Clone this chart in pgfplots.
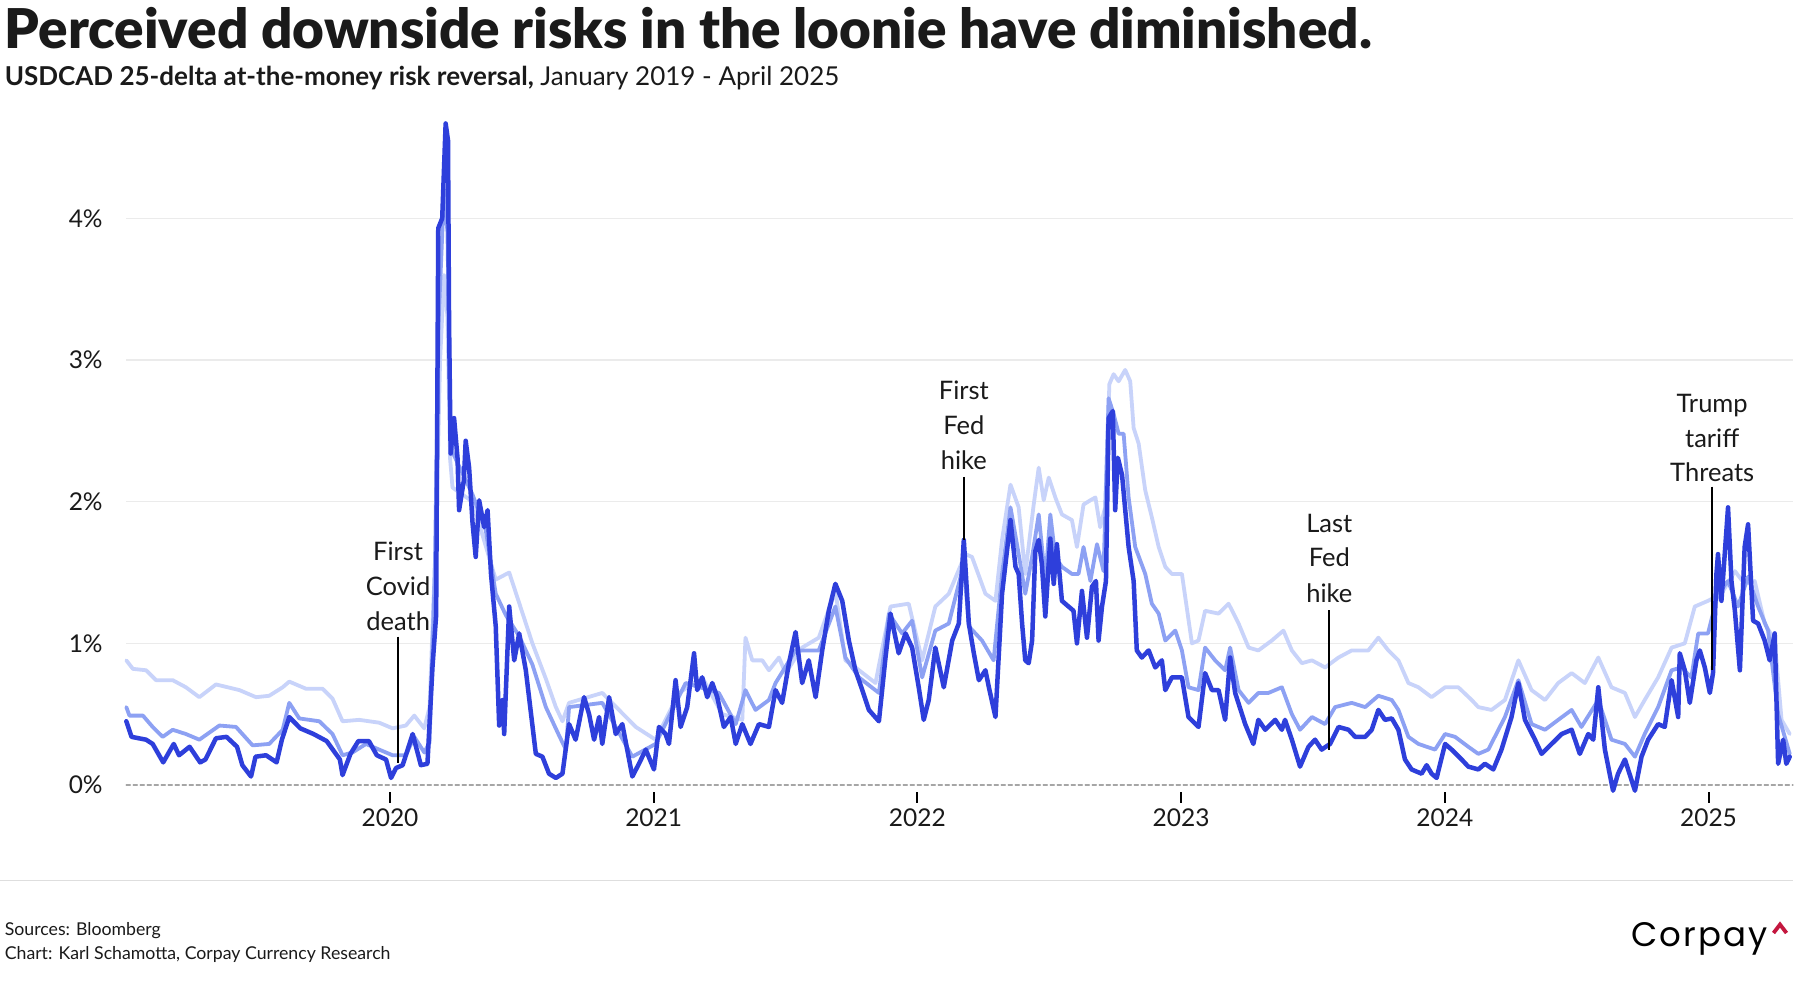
\documentclass[border=0pt]{standalone}
\usepackage{fontspec}
\setmainfont{Lato}
\newfontfamily\titlefont{Lato Black}
\newfontfamily\logofont{Poppins}[LetterSpace=6]
\usepackage{pgfplots}
\usepackage{pgfplotstable}
\pgfplotsset{compat=1.18}
\definecolor{cdark}{HTML}{2E3FDB}
\definecolor{cmed}{HTML}{8DA1F3}
\definecolor{clight}{HTML}{C8D3FA}
\definecolor{ctext}{HTML}{1A1A1A}
\definecolor{cred}{HTML}{C4173F}

\pgfplotstableread{
t v
2019.000 0.45
2019.020 0.34
2019.075 0.32
2019.100 0.29
2019.140 0.16
2019.180 0.29
2019.200 0.21
2019.240 0.27
2019.280 0.16
2019.300 0.18
2019.340 0.33
2019.380 0.34
2019.420 0.27
2019.440 0.14
2019.473 0.06
2019.490 0.20
2019.530 0.21
2019.570 0.16
2019.590 0.32
2019.618 0.48
2019.660 0.40
2019.710 0.36
2019.760 0.31
2019.810 0.18
2019.820 0.07
2019.850 0.22
2019.880 0.31
2019.920 0.31
2019.950 0.21
2019.985 0.18
2020.004 0.05
2020.023 0.12
2020.048 0.14
2020.086 0.36
2020.117 0.14
2020.142 0.15
2020.161 0.83
2020.175 1.20
2020.183 3.93
2020.198 4.00
2020.211 4.67
2020.220 4.55
2020.224 3.26
2020.230 2.34
2020.243 2.59
2020.256 2.31
2020.262 1.94
2020.280 2.15
2020.287 2.43
2020.300 2.24
2020.313 1.85
2020.325 1.61
2020.338 2.01
2020.357 1.82
2020.370 1.94
2020.383 1.49
2020.401 1.12
2020.414 0.42
2020.427 0.60
2020.433 0.36
2020.452 1.26
2020.471 0.88
2020.490 1.07
2020.515 0.81
2020.553 0.22
2020.578 0.20
2020.603 0.08
2020.629 0.05
2020.654 0.08
2020.679 0.43
2020.704 0.32
2020.736 0.62
2020.755 0.50
2020.774 0.32
2020.793 0.48
2020.805 0.29
2020.831 0.62
2020.856 0.36
2020.881 0.43
2020.919 0.06
2020.944 0.15
2020.970 0.25
2021.001 0.11
2021.020 0.41
2021.045 0.36
2021.058 0.29
2021.083 0.74
2021.102 0.41
2021.127 0.55
2021.153 0.93
2021.165 0.67
2021.184 0.76
2021.203 0.62
2021.222 0.72
2021.241 0.62
2021.266 0.41
2021.292 0.48
2021.311 0.29
2021.336 0.43
2021.367 0.29
2021.399 0.43
2021.437 0.41
2021.462 0.67
2021.487 0.58
2021.513 0.86
2021.538 1.08
2021.563 0.72
2021.588 0.88
2021.614 0.62
2021.639 0.95
2021.664 1.23
2021.689 1.42
2021.715 1.30
2021.740 1.02
2021.765 0.81
2021.791 0.67
2021.816 0.53
2021.854 0.45
2021.879 0.90
2021.898 1.21
2021.929 0.93
2021.955 1.07
2021.980 0.97
2022.005 0.69
2022.024 0.46
2022.043 0.60
2022.068 0.97
2022.100 0.69
2022.132 1.02
2022.157 1.14
2022.176 1.73
2022.195 1.14
2022.214 0.93
2022.233 0.74
2022.258 0.81
2022.271 0.69
2022.296 0.48
2022.321 1.35
2022.353 1.87
2022.372 1.54
2022.384 1.49
2022.397 1.14
2022.409 0.88
2022.422 0.86
2022.435 1.02
2022.447 1.65
2022.460 1.73
2022.472 1.56
2022.485 1.19
2022.504 1.74
2022.517 1.42
2022.529 1.70
2022.548 1.30
2022.573 1.26
2022.592 1.23
2022.605 1.00
2022.624 1.37
2022.643 1.04
2022.662 1.40
2022.677 1.44
2022.687 1.02
2022.700 1.26
2022.715 1.44
2022.725 2.59
2022.741 2.64
2022.750 1.94
2022.760 2.31
2022.776 2.19
2022.801 1.68
2022.820 1.44
2022.832 0.95
2022.851 0.90
2022.877 0.95
2022.902 0.83
2022.927 0.88
2022.940 0.67
2022.965 0.76
2023.003 0.76
2023.028 0.48
2023.066 0.41
2023.091 0.79
2023.117 0.67
2023.142 0.67
2023.167 0.46
2023.186 0.90
2023.205 0.65
2023.243 0.43
2023.274 0.29
2023.293 0.46
2023.319 0.39
2023.357 0.46
2023.382 0.39
2023.394 0.46
2023.420 0.32
2023.451 0.13
2023.483 0.27
2023.508 0.32
2023.533 0.25
2023.565 0.29
2023.597 0.41
2023.635 0.39
2023.660 0.34
2023.698 0.34
2023.723 0.39
2023.748 0.53
2023.773 0.46
2023.799 0.47
2023.824 0.39
2023.849 0.18
2023.874 0.11
2023.912 0.08
2023.931 0.14
2023.950 0.08
2023.969 0.05
2024.001 0.29
2024.026 0.25
2024.064 0.18
2024.089 0.13
2024.127 0.11
2024.152 0.15
2024.184 0.11
2024.215 0.25
2024.253 0.48
2024.279 0.72
2024.304 0.46
2024.342 0.32
2024.367 0.22
2024.405 0.29
2024.443 0.36
2024.481 0.39
2024.512 0.22
2024.544 0.36
2024.563 0.32
2024.582 0.69
2024.607 0.25
2024.638 -0.04
2024.657 0.08
2024.683 0.18
2024.721 -0.04
2024.746 0.20
2024.771 0.32
2024.809 0.43
2024.834 0.41
2024.860 0.74
2024.885 0.48
2024.891 0.93
2024.910 0.81
2024.929 0.58
2024.954 0.88
2024.967 0.95
2024.986 0.83
2025.005 0.65
2025.017 0.79
2025.030 1.49
2025.036 1.63
2025.049 1.30
2025.074 1.96
2025.087 1.44
2025.100 1.23
2025.119 0.81
2025.137 1.68
2025.150 1.84
2025.169 1.16
2025.188 1.14
2025.213 1.02
2025.232 0.88
2025.251 1.07
2025.264 0.15
2025.283 0.32
2025.295 0.15
2025.308 0.20
}\darkdata

\pgfplotstableread{
t v
2019.000 0.55
2019.012 0.49
2019.063 0.49
2019.100 0.41
2019.138 0.34
2019.176 0.39
2019.226 0.36
2019.277 0.32
2019.353 0.42
2019.416 0.41
2019.479 0.28
2019.542 0.29
2019.593 0.39
2019.618 0.58
2019.656 0.47
2019.732 0.45
2019.782 0.36
2019.820 0.21
2019.858 0.23
2019.909 0.29
2019.959 0.25
2020.010 0.21
2020.060 0.21
2020.092 0.34
2020.130 0.23
2020.150 0.30
2020.170 1.50
2020.185 3.30
2020.205 4.20
2020.218 3.90
2020.228 2.60
2020.237 2.35
2020.313 2.05
2020.363 1.80
2020.401 1.35
2020.439 1.20
2020.490 1.05
2020.540 0.85
2020.591 0.55
2020.641 0.35
2020.667 0.25
2020.679 0.55
2020.805 0.58
2020.919 0.20
2021.007 0.29
2021.121 0.72
2021.247 0.65
2021.311 0.43
2021.348 0.67
2021.386 0.53
2021.437 0.60
2021.462 0.72
2021.538 0.95
2021.626 0.95
2021.689 1.26
2021.727 0.90
2021.778 0.76
2021.854 0.65
2021.892 1.21
2021.942 1.07
2021.980 1.16
2022.018 0.76
2022.068 1.09
2022.119 1.14
2022.176 1.56
2022.195 1.12
2022.245 1.02
2022.289 0.88
2022.321 1.49
2022.353 1.96
2022.384 1.63
2022.409 1.35
2022.435 1.61
2022.460 1.91
2022.485 1.44
2022.504 1.91
2022.523 1.61
2022.548 1.54
2022.586 1.49
2022.611 1.49
2022.630 1.68
2022.656 1.44
2022.681 1.70
2022.706 1.51
2022.725 2.73
2022.744 2.62
2022.763 2.48
2022.782 2.48
2022.801 2.03
2022.826 1.68
2022.864 1.49
2022.889 1.28
2022.915 1.21
2022.940 1.02
2022.978 1.09
2023.003 0.95
2023.028 0.69
2023.066 0.67
2023.091 0.97
2023.129 0.88
2023.167 0.81
2023.186 0.97
2023.218 0.67
2023.256 0.58
2023.293 0.65
2023.331 0.65
2023.382 0.69
2023.420 0.50
2023.451 0.39
2023.496 0.48
2023.546 0.43
2023.584 0.55
2023.647 0.58
2023.698 0.55
2023.748 0.63
2023.799 0.60
2023.824 0.53
2023.862 0.34
2023.900 0.29
2023.963 0.25
2024.001 0.36
2024.039 0.34
2024.089 0.27
2024.127 0.22
2024.165 0.25
2024.228 0.48
2024.279 0.74
2024.329 0.43
2024.380 0.39
2024.430 0.46
2024.481 0.53
2024.518 0.41
2024.582 0.60
2024.632 0.32
2024.683 0.29
2024.721 0.20
2024.758 0.36
2024.809 0.55
2024.860 0.81
2024.897 0.83
2024.935 0.76
2024.961 1.07
2024.998 1.07
2025.036 1.35
2025.074 1.44
2025.112 1.26
2025.150 1.47
2025.188 1.26
2025.226 1.09
2025.264 0.50
2025.308 0.22
}\meddata

\pgfplotstableread{
t v
2019.000 0.88
2019.025 0.82
2019.075 0.81
2019.113 0.74
2019.176 0.74
2019.226 0.69
2019.277 0.62
2019.340 0.71
2019.429 0.67
2019.492 0.62
2019.542 0.63
2019.593 0.69
2019.618 0.73
2019.681 0.68
2019.744 0.68
2019.782 0.61
2019.820 0.45
2019.883 0.46
2019.959 0.44
2020.010 0.40
2020.060 0.42
2020.092 0.49
2020.130 0.40
2020.150 0.55
2020.175 1.80
2020.190 3.00
2020.205 3.60
2020.218 3.30
2020.228 2.30
2020.237 2.10
2020.313 2.00
2020.401 1.45
2020.452 1.50
2020.540 1.00
2020.591 0.75
2020.629 0.55
2020.654 0.45
2020.679 0.58
2020.805 0.65
2020.932 0.41
2021.007 0.32
2021.096 0.65
2021.184 0.76
2021.260 0.50
2021.336 0.46
2021.348 1.04
2021.374 0.88
2021.412 0.88
2021.437 0.81
2021.475 0.90
2021.500 0.79
2021.563 0.97
2021.626 1.04
2021.689 1.37
2021.727 0.88
2021.765 0.83
2021.841 0.72
2021.898 1.26
2021.967 1.28
2022.018 0.88
2022.068 1.26
2022.119 1.35
2022.182 1.63
2022.207 1.61
2022.258 1.35
2022.296 1.30
2022.321 1.73
2022.353 2.12
2022.384 1.96
2022.409 1.49
2022.441 1.98
2022.460 2.24
2022.479 2.01
2022.498 2.17
2022.523 2.03
2022.548 1.91
2022.586 1.87
2022.605 1.68
2022.630 1.98
2022.656 2.01
2022.675 2.03
2022.693 1.82
2022.712 1.96
2022.728 2.83
2022.744 2.90
2022.763 2.85
2022.788 2.93
2022.807 2.85
2022.820 2.52
2022.839 2.41
2022.864 2.08
2022.889 1.89
2022.915 1.68
2022.940 1.54
2022.965 1.49
2023.003 1.49
2023.041 1.00
2023.066 1.02
2023.091 1.23
2023.142 1.21
2023.180 1.28
2023.218 1.14
2023.256 0.97
2023.293 0.95
2023.344 1.02
2023.388 1.09
2023.420 0.95
2023.458 0.86
2023.496 0.88
2023.546 0.83
2023.597 0.90
2023.647 0.95
2023.710 0.95
2023.748 1.04
2023.786 0.95
2023.824 0.88
2023.862 0.72
2023.900 0.69
2023.950 0.62
2024.001 0.69
2024.051 0.69
2024.102 0.60
2024.127 0.55
2024.177 0.53
2024.228 0.60
2024.279 0.88
2024.329 0.67
2024.380 0.60
2024.430 0.72
2024.481 0.79
2024.531 0.72
2024.582 0.90
2024.632 0.69
2024.683 0.65
2024.721 0.48
2024.758 0.60
2024.809 0.76
2024.860 0.97
2024.910 1.00
2024.948 1.26
2024.998 1.30
2025.049 1.35
2025.100 1.51
2025.137 1.42
2025.175 1.44
2025.213 1.14
2025.251 1.02
2025.277 0.46
2025.308 0.36
}\lightdata

\newcommand{\annfont}{\fontsize{25.5}{30}\selectfont}
\newcommand{\tickfont}{\fontsize{24.5}{29}\selectfont}

\begin{document}
\begin{tikzpicture}
\path[use as bounding box, fill=white] (0pt,0pt) rectangle (1799pt,-1000pt);
\node[anchor=base west, inner sep=0pt, text=ctext, font=\titlefont\fontsize{54.8}{60}\selectfont] at (4.6pt,-48.5pt) {Perceived downside risks in the loonie have diminished.};
\node[anchor=base west, inner sep=0pt, text=ctext, font=\fontsize{26}{30}\selectfont] at (4.6pt,-86pt) {\textbf{USDCAD 25-delta at-the-money risk reversal,} January 2019 - April 2025};

\begin{axis}[
  at={(126.3pt,-792.1pt)}, anchor=south west,
  scale only axis, width=1666.6pt, height=680pt,
  xmin=2019, xmax=2025.32, ymin=-0.05, ymax=4.75,
  clip=false,
  axis line style={draw=none},
  xtick={2020,2021,2022,2023,2024,2025},
  xticklabels={2020,2021,2022,2023,2024,2025},
  ytick={0,1,2,3,4},
  yticklabels={0\%,1\%,2\%,3\%,4\%},
  xtick pos=bottom, ytick pos=left,
  ymajorgrids, xmajorgrids=false,
  major grid style={color=black!8, line width=1.2pt},
  xtick align=outside, ytick align=inside,
  major tick length=10.5pt,
  xtick style={black, line width=2pt},
  ytick style={draw=none},
  xticklabel style={font=\tickfont, text=ctext, anchor=base, inner sep=0pt, yshift=-23.6pt},
  yticklabel style={font=\tickfont, text=ctext, anchor=east, inner sep=0pt, xshift=-23.5pt},
  every axis plot/.append style={line join=round, line cap=round},
]
\addplot[color=white, line width=2pt] coordinates {(2019,0) (2025.32,0)};
\addplot[color=black!35, line width=1.5pt, dash pattern=on 4pt off 3pt] coordinates {(2019,0) (2025.32,0)};
\addplot[color=clight, line width=3.8pt] table[x=t,y=v] {\lightdata};
\addplot[color=cmed, line width=3.8pt] table[x=t,y=v] {\meddata};
\addplot[color=cdark, line width=4.5pt] table[x=t,y=v] {\darkdata};

% year tick marks
\draw[black, line width=2pt] (axis cs:2020,-0.05) -- ([yshift=-10.8pt]axis cs:2020,-0.05);
\draw[black, line width=2pt] (axis cs:2021,-0.05) -- ([yshift=-10.8pt]axis cs:2021,-0.05);
\draw[black, line width=2pt] (axis cs:2022,-0.05) -- ([yshift=-10.8pt]axis cs:2022,-0.05);
\draw[black, line width=2pt] (axis cs:2023,-0.05) -- ([yshift=-10.8pt]axis cs:2023,-0.05);
\draw[black, line width=2pt] (axis cs:2024,-0.05) -- ([yshift=-10.8pt]axis cs:2024,-0.05);
\draw[black, line width=2pt] (axis cs:2025,-0.05) -- ([yshift=-10.8pt]axis cs:2025,-0.05);

% annotations
\draw[black, line width=1.8pt] (axis cs:2020.031,1.047) -- (axis cs:2020.031,0.155);
\node[font=\annfont, text=ctext, anchor=base, inner sep=0pt] at (axis cs:2020.031,1.588) {First};
\node[font=\annfont, text=ctext, anchor=base, inner sep=0pt] at (axis cs:2020.031,1.341) {Covid};
\node[font=\annfont, text=ctext, anchor=base, inner sep=0pt] at (axis cs:2020.031,1.094) {death};

\draw[black, line width=1.8pt] (axis cs:2022.176,2.176) -- (axis cs:2022.176,1.729);
\node[font=\annfont, text=ctext, anchor=base, inner sep=0pt] at (axis cs:2022.176,2.718) {First};
\node[font=\annfont, text=ctext, anchor=base, inner sep=0pt] at (axis cs:2022.176,2.471) {Fed};
\node[font=\annfont, text=ctext, anchor=base, inner sep=0pt] at (axis cs:2022.176,2.224) {hike};

\draw[black, line width=1.8pt] (axis cs:2023.562,1.235) -- (axis cs:2023.562,0.247);
\node[font=\annfont, text=ctext, anchor=base, inner sep=0pt] at (axis cs:2023.562,1.786) {Last};
\node[font=\annfont, text=ctext, anchor=base, inner sep=0pt] at (axis cs:2023.562,1.539) {Fed};
\node[font=\annfont, text=ctext, anchor=base, inner sep=0pt] at (axis cs:2023.562,1.285) {hike};

\draw[black, line width=1.8pt] (axis cs:2025.014,2.106) -- (axis cs:2025.014,0.812);
\node[font=\annfont, text=ctext, anchor=base, inner sep=0pt] at (axis cs:2025.014,2.633) {Trump};
\node[font=\annfont, text=ctext, anchor=base, inner sep=0pt] at (axis cs:2025.014,2.386) {tariff};
\node[font=\annfont, text=ctext, anchor=base, inner sep=0pt] at (axis cs:2025.014,2.139) {Threats};
\end{axis}

\draw[color=black!13, line width=1.5pt] (0pt,-880.5pt) -- (1793pt,-880.5pt);
\node[anchor=base west, inner sep=0pt, text=ctext, font=\fontsize{17.7}{21}\selectfont] at (4.6pt,-935pt) {Sources: Bloomberg};
\node[anchor=base west, inner sep=0pt, text=ctext, font=\fontsize{17.7}{21}\selectfont] at (4.6pt,-959pt) {Chart: Karl Schamotta, Corpay Currency Research};
\node[anchor=base west, inner sep=0pt, text=black, font=\logofont\fontsize{34}{40}\selectfont] at (1631pt,-946.7pt) {Corpay};
\draw[cred, line width=3.8pt, line cap=butt, line join=miter] (1773.5pt,-933pt) -- (1780pt,-924.5pt) -- (1786.5pt,-933pt);
\end{tikzpicture}
\end{document}
